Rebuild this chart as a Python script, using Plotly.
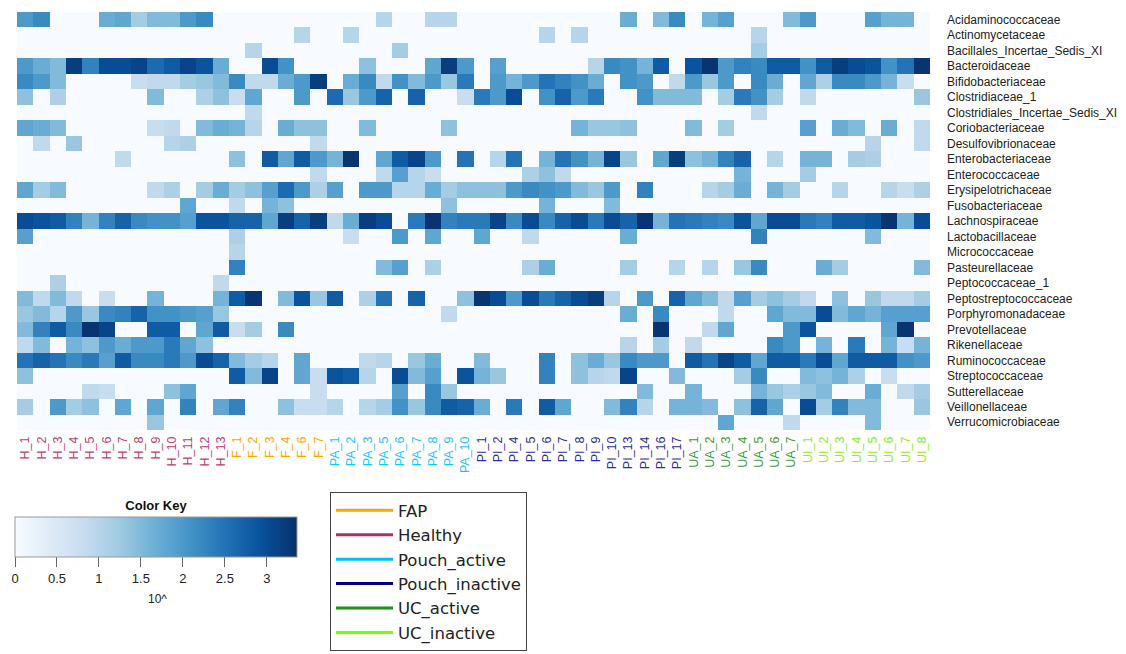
import plotly.graph_objects as go

# ---------------- data ----------------
samples = (["H_%d" % i for i in range(1, 14)]
           + ["F_1", "F_2", "F_3", "F_4", "F_6", "F_7"]
           + ["PA_1", "PA_2", "PA_3", "PA_5", "PA_6", "PA_7", "PA_8", "PA_9", "PA_10"]
           + ["PI_1", "PI_2", "PI_4", "PI_5", "PI_6", "PI_7", "PI_8", "PI_9", "PI_10",
              "PI_13", "PI_14", "PI_16", "PI_17"]
           + ["UA_%d" % i for i in range(1, 8)]
           + ["UI_%d" % i for i in range(1, 9)])
sample_group = (["Healthy"] * 13 + ["FAP"] * 6 + ["Pouch_active"] * 9
                + ["Pouch_inactive"] * 13 + ["UC_active"] * 7 + ["UC_inactive"] * 8)

families = ["Acidaminococcaceae", "Actinomycetaceae", "Bacillales_Incertae_Sedis_XI",
            "Bacteroidaceae", "Bifidobacteriaceae", "Clostridiaceae_1",
            "Clostridiales_Incertae_Sedis_XI", "Coriobacteriaceae", "Desulfovibrionaceae",
            "Enterobacteriaceae", "Enterococcaceae", "Erysipelotrichaceae",
            "Fusobacteriaceae", "Lachnospiraceae", "Lactobacillaceae", "Micrococcaceae",
            "Pasteurellaceae", "Peptococcaceae_1", "Peptostreptococcaceae",
            "Porphyromonadaceae", "Prevotellaceae", "Rikenellaceae", "Ruminococcaceae",
            "Streptococcaceae", "Sutterellaceae", "Veillonellaceae", "Verrucomicrobiaceae"]

# log10 abundance per family; blocks: H(13) | F(6) | PA(9) | PI(13) | UA(7) | UI(8)
acidaminococcaceae = ([2.0, 2.2, 0, 0, 0, 1.7, 1.8, 1.2, 1.5, 1.5, 2.0, 2.2, 0]
                      + [0, 0, 0, 0, 0, 0]
                      + [0, 0, 0, 1.0, 0, 0, 1.0, 1.0, 0]
                      + [0, 0, 0, 0, 0, 0, 0, 0, 0, 1.7, 0, 1.5, 2.2]
                      + [0, 1.6, 1.9, 0, 0, 0, 1.5]
                      + [2.0, 0, 0, 0, 1.9, 1.6, 1.6, 0])
actinomycetaceae = ([0] * 13
                    + [0, 0, 0, 0, 1.0, 0]
                    + [0, 1.0, 0, 0, 0, 0, 0, 0, 0]
                    + [0, 0, 0, 0, 1.0, 0, 1.0, 0, 0, 0, 0, 0, 0]
                    + [0, 0, 0, 0, 1.0, 0, 0]
                    + [0] * 8)
bacillales = ([0] * 13
              + [0, 1.0, 0, 0, 0, 0]
              + [0, 0, 0, 0, 1.2, 0, 0, 0, 0]
              + [0] * 13
              + [0, 0, 0, 0, 1.2, 0, 0]
              + [0] * 8)
bacteroidaceae = ([2.0, 1.7, 1.5, 3.2, 2.3, 3.0, 3.0, 3.1, 2.6, 2.8, 3.1, 2.9, 1.7]
                  + [0, 0, 3.0, 2.1, 0, 0]
                  + [0, 0, 1.4, 0, 0, 0, 1.8, 3.2, 2.0]
                  + [0, 1.9, 0, 0, 0, 0, 0, 1.0, 2.2, 2.1, 1.6, 2.8, 0]
                  + [2.9, 3.3, 2.0, 2.3, 2.2, 2.8, 2.8]
                  + [2.1, 2.8, 3.2, 3.0, 2.9, 2.1, 2.5, 3.3])
bifidobacteriaceae = ([2.2, 2.0, 1.5, 0, 0, 0, 0, 0.8, 0.9, 0.9, 1.2, 1.3, 1.5]
                      + [2.2, 0.9, 0.9, 1.7, 2.0, 3.2]
                      + [0, 1.7, 2.2, 0.9, 2.1, 1.5, 2.0, 1.3, 2.4]
                      + [0, 2.0, 1.6, 2.0, 2.5, 2.3, 2.1, 1.7, 0, 2.1, 2.0, 0, 0.9]
                      + [2.0, 1.3, 2.0, 0, 2.2, 1.7, 0]
                      + [1.8, 1.1, 2.2, 2.2, 2.0, 1.6, 0.8, 0])
clostridiaceae_1 = ([1.4, 0, 1.1, 0, 0, 0, 0, 0, 1.5, 0, 0, 1.1, 1.4]
                    + [0.8, 1.8, 0, 0, 2.0, 0]
                    + [2.6, 1.3, 2.0, 2.7, 0, 2.7, 0, 0, 0.8]
                    + [2.4, 2.0, 3.0, 0, 2.1, 2.7, 2.0, 2.4, 0, 0, 2.1, 1.5, 1.5]
                    + [1.5, 0, 1.2, 2.4, 2.1, 1.2, 0]
                    + [0.9, 0, 0, 0, 0, 0, 0, 1.3])
clostridiales = ([0] * 13
                 + [0, 0.9, 0, 0, 0, 0]
                 + [0] * 9
                 + [0] * 13
                 + [0, 0, 0, 0, 0.9, 0, 0]
                 + [0] * 8)
coriobacteriaceae = ([1.8, 1.7, 1.5, 0, 0, 0, 0, 0, 0.8, 0.9, 0, 1.5, 1.7]
                     + [1.6, 1.0, 0, 1.7, 1.4, 1.4]
                     + [0, 0, 1.5, 0, 0, 0, 0, 1.4, 0]
                     + [0, 0, 0, 0, 0, 0, 1.6, 1.3, 1.3, 1.4, 0, 0, 0]
                     + [1.5, 0, 1.2, 0, 0, 0, 0]
                     + [1.9, 0, 1.7, 1.5, 0, 1.7, 0, 0.9])
desulfovibrionaceae = ([0, 0.9, 0, 1.3, 0, 0, 0, 0, 0, 1.0, 1.1, 0, 0]
                       + [0, 0, 0, 0, 0, 0.9]
                       + [0] * 9
                       + [0] * 13
                       + [0] * 7
                       + [0, 0, 0, 0, 1.0, 0, 0, 0.9])
enterobacteriaceae = ([0, 0, 0, 0, 0, 0, 0.9, 0, 0, 0, 0, 0, 0]
                      + [1.4, 0, 2.8, 1.8, 2.8, 2.0]
                      + [1.6, 3.3, 0, 1.8, 2.8, 3.1, 2.0, 0, 2.5]
                      + [0, 1.0, 2.5, 0, 1.6, 2.5, 2.1, 1.6, 3.1, 1.3, 0, 1.8, 3.2]
                      + [1.4, 1.6, 2.3, 2.7, 0, 1.0, 0]
                      + [1.6, 1.6, 0, 1.2, 1.1, 0, 0, 0])
enterococcaceae = ([0] * 13
                   + [0, 0, 0, 0, 0, 0.9]
                   + [0, 0, 0, 0.9, 1.9, 1.0, 0.8, 0, 0]
                   + [0, 0, 0, 1.1, 1.4, 0.9, 0, 0, 0, 0, 0, 0, 0]
                   + [0, 0, 0, 1.6, 0, 0, 0]
                   + [1.2, 0, 0, 0, 0, 0, 0, 0])
erysipelotrichaceae = ([1.8, 1.2, 1.5, 0, 0, 0, 0, 0, 0.9, 1.1, 0, 1.2, 1.7]
                       + [1.2, 1.4, 1.9, 2.6, 2.0, 1.1]
                       + [1.9, 0, 2.0, 2.0, 1.0, 1.0, 1.7, 1.2, 1.4]
                       + [1.4, 1.4, 2.0, 2.2, 2.1, 2.0, 1.5, 1.3, 2.0, 0, 2.3, 0, 0]
                       + [0, 1.0, 1.2, 1.7, 0, 1.6, 1.2]
                       + [0, 0, 1.0, 0, 0, 1.0, 0.8, 1.1])
fusobacteriaceae = ([0, 0, 0, 0, 0, 0, 0, 0, 0, 0, 1.8, 0, 0]
                    + [0.9, 0, 1.6, 1.4, 0, 0]
                    + [0, 0, 0, 0, 0, 0, 0, 1.4, 0]
                    + [0, 0, 0, 0, 1.6, 0, 0, 0, 1.5, 0, 0, 0, 0]
                    + [0] * 7
                    + [0] * 8)
lachnospiraceae = ([3.0, 2.9, 2.8, 2.3, 1.6, 2.3, 2.7, 2.2, 2.1, 2.1, 1.9, 2.9, 2.9]
                   + [2.7, 2.7, 1.8, 3.2, 2.7, 3.2]
                   + [0.9, 1.7, 3.2, 3.0, 0, 2.4, 3.3, 2.3, 2.4]
                   + [2.4, 3.1, 2.2, 3.0, 2.2, 2.7, 3.0, 2.4, 3.0, 2.7, 3.3, 1.6, 2.5]
                   + [2.4, 2.3, 2.2, 2.9, 1.8, 3.0, 3.0]
                   + [2.4, 2.3, 2.8, 2.8, 2.9, 3.3, 1.6, 3.0])
lactobacillaceae = ([1.9] + [0] * 12
                    + [1.1, 0, 0, 0, 0, 0]
                    + [0, 0.8, 0, 0, 2.0, 0, 1.8, 0, 0]
                    + [1.8, 0, 0, 0.9, 0, 0, 0, 0, 0, 1.7, 0, 0, 0]
                    + [0, 0, 0, 0, 2.3, 0, 0]
                    + [0, 0, 0, 0, 1.5, 0, 0, 0])
micrococcaceae = ([0] * 13
                  + [1.0, 0, 0, 0, 0, 0]
                  + [0] * 9 + [0] * 13 + [0] * 7 + [0] * 8)
pasteurellaceae = ([0] * 13
                   + [2.3, 0, 0, 0, 0, 0]
                   + [0, 0, 0, 1.5, 1.9, 0, 1.1, 0, 0]
                   + [0, 0, 0, 1.1, 1.7, 0, 0, 0, 0, 1.2, 0, 0, 1.0]
                   + [0, 1.0, 0, 1.3, 2.2, 0, 0]
                   + [0, 1.7, 1.2, 0, 0, 0, 0, 1.5])
peptococcaceae_1 = ([0, 0, 1.1, 0, 0, 0, 0, 0, 0, 0, 0, 0, 0.9]
                    + [0] * 6 + [0] * 9 + [0] * 13 + [0] * 7 + [0] * 8)
peptostreptococcaceae = ([1.5, 0.9, 1.5, 0.9, 0, 0.8, 0, 0, 1.6, 0, 0, 0, 1.6]
                         + [2.8, 3.3, 0, 1.5, 2.9, 1.3]
                         + [2.8, 0, 1.1, 2.5, 0, 2.7, 0, 0, 1.4]
                         + [3.3, 3.0, 2.0, 3.0, 2.4, 2.7, 3.0, 3.2, 1.0, 0, 2.0, 0, 2.7]
                         + [1.8, 1.5, 0.9, 1.9, 1.2, 1.4, 1.2]
                         + [0.9, 0, 1.4, 0, 1.3, 0.9, 0.9, 1.2])
porphyromonadaceae = ([1.3, 1.5, 1.0, 2.0, 1.3, 2.2, 2.3, 2.7, 2.1, 2.1, 2.0, 1.9, 1.3]
                      + [0] * 6
                      + [0, 0, 0, 0, 0, 0, 0, 0.9, 0]
                      + [0, 0, 0, 0, 0, 0, 0, 0, 0, 1.7, 0, 2.2, 0]
                      + [0, 0, 0.9, 0, 0, 1.8, 1.5]
                      + [1.5, 3.0, 1.5, 1.8, 1.6, 1.9, 1.9, 1.9])
prevotellaceae = ([1.5, 2.3, 2.8, 2.2, 3.3, 3.1, 0, 0, 2.8, 2.8, 0, 1.8, 2.8]
                  + [0.8, 1.2, 0, 2.2, 0, 0]
                  + [0] * 9
                  + [0, 0, 0, 0, 0, 0, 0, 0, 0, 0, 0, 3.3, 0]
                  + [0, 0.9, 1.8, 0, 0, 0, 2.0]
                  + [2.9, 0, 0, 0, 0, 1.8, 3.3, 0])
rikenellaceae = ([0.9, 1.5, 0, 1.6, 1.4, 2.0, 1.7, 2.0, 2.0, 2.4, 1.8, 1.4, 0]
                 + [0] * 6
                 + [0] * 9
                 + [0, 0, 0, 0, 0, 0, 0, 0, 0, 1.0, 0, 1.2, 0]
                 + [0.9, 0, 0, 0, 0, 2.2, 2.0]
                 + [0, 1.6, 0, 2.4, 0, 1.6, 0.8, 1.6])
ruminococcaceae = ([2.5, 2.7, 2.5, 2.2, 2.4, 1.9, 2.8, 2.2, 2.2, 2.4, 2.0, 3.0, 2.7]
                   + [1.5, 1.2, 1.0, 0, 1.8, 0]
                   + [0, 0, 0.9, 1.0, 0, 1.3, 1.7, 0, 0]
                   + [1.5, 0, 0, 0, 2.3, 0, 1.4, 1.7, 1.3, 2.2, 2.0, 2.0, 0]
                   + [2.8, 2.5, 3.1, 2.8, 1.8, 2.8, 2.8]
                   + [2.4, 3.0, 1.8, 2.8, 2.8, 2.8, 2.1, 2.0])
streptococcaceae = ([1.4] + [0] * 12
                    + [2.8, 1.5, 3.1, 0, 1.8, 0.8]
                    + [2.9, 2.8, 1.0, 0, 3.0, 1.5, 1.9, 0, 2.9]
                    + [1.6, 1.3, 0, 0, 2.3, 0, 1.4, 1.0, 0.9, 3.1, 0, 0, 1.5]
                    + [0, 0, 0, 1.2, 2.2, 0, 0]
                    + [1.5, 1.4, 1.6, 1.1, 0, 0.8, 0, 0])
sutterellaceae = ([0, 0, 0, 0, 0.9, 0.8, 0, 0, 0, 1.4, 1.8, 0, 0]
                  + [0, 0, 0, 0, 0, 0.8]
                  + [0, 0, 0, 0, 1.9, 0, 2.2, 1.3, 0]
                  + [0, 0, 0, 0, 0, 0, 0, 0, 0, 0, 1.5, 0, 0]
                  + [1.6, 0, 0, 0, 1.6, 1.3, 1.1]
                  + [1.3, 1.5, 0, 0, 1.7, 0, 0.9, 1.2])
veillonellaceae = ([1.2, 0, 2.0, 1.2, 1.4, 0, 1.8, 0, 1.8, 0, 2.3, 0, 1.8]
                   + [2.3, 0, 0, 1.4, 0.8, 0.8]
                   + [1.0, 0, 1.0, 1.2, 2.1, 1.3, 2.2, 2.8, 2.7]
                   + [1.7, 0, 2.4, 0, 2.8, 1.8, 0, 0, 1.5, 2.3, 1.0, 0, 1.6]
                   + [1.6, 1.5, 0, 1.4, 2.7, 1.8, 0]
                   + [3.0, 1.2, 2.3, 1.5, 1.5, 0, 0, 1.3])
verrucomicrobiaceae = ([0, 0, 0, 0, 0, 0, 0, 0, 1.3, 0, 0, 0, 0]
                       + [0] * 6 + [0] * 9 + [0] * 13
                       + [0, 0, 1.8, 0, 0, 0, 0.9]
                       + [0, 0, 0, 0, 1.5, 0, 0, 0])

legend_groups = ["FAP", "Healthy", "Pouch_active", "Pouch_inactive", "UC_active", "UC_inactive"]
colorbar_ticks = [0, 0.5, 1, 1.5, 2, 2.5, 3]

# ---------------- figure ----------------
rows = [acidaminococcaceae, actinomycetaceae, bacillales, bacteroidaceae, bifidobacteriaceae,
        clostridiaceae_1, clostridiales, coriobacteriaceae, desulfovibrionaceae,
        enterobacteriaceae, enterococcaceae, erysipelotrichaceae, fusobacteriaceae,
        lachnospiraceae, lactobacillaceae, micrococcaceae, pasteurellaceae, peptococcaceae_1,
        peptostreptococcaceae, porphyromonadaceae, prevotellaceae, rikenellaceae,
        ruminococcaceae, streptococcaceae, sutterellaceae, veillonellaceae, verrucomicrobiaceae]

group_colors = {"FAP": "#FFA500", "Healthy": "#B03060", "Pouch_active": "#00BFFF",
                "Pouch_inactive": "#000080", "UC_active": "#228B22", "UC_inactive": "#7CFC00"}
label_colors = {"FAP": "#FFA500", "Healthy": "#C0406E", "Pouch_active": "#1EC0FF",
                "Pouch_inactive": "#2E2E9A", "UC_active": "#3A9A3A", "UC_inactive": "#88EE22"}

FONT = "Liberation Sans, Arial, sans-serif"
LEGEND_FONT = "DejaVu Sans, Liberation Sans, sans-serif"

# the page body has an 8px margin: the figure is drawn 8px in from the window corner
OFF = 8
W, H = 1126 - OFF, 654 - OFF
ML, MR, MT, MB = 17 - OFF, 196, 12 - OFF, 224
PW, PH = W - ML - MR, H - MT - MB


def px_x(x):  # window pixel -> paper x
    return (x - OFF - ML) / PW


def px_y(y):  # window pixel -> paper y
    return (H - MB - (y - OFF)) / PH


fig = go.Figure()
fig.add_trace(go.Heatmap(
    z=rows, x=list(range(len(samples))), y=list(range(len(families))),
    colorscale="Blues", zmin=0, zmax=3.36, showscale=True, showlegend=False,
    hoverinfo="skip",
    colorbar=dict(
        orientation="h", lenmode="pixels", len=282, thickness=40,
        x=px_x(15), xanchor="left", y=px_y(502), yanchor="top",
        xpad=0, ypad=0,
        title=dict(text="<b>Color Key</b>", side="top",
                   font=dict(family=FONT, size=13, color="#111")),
        tickvals=colorbar_ticks, ticktext=[str(t) for t in colorbar_ticks],
        ticks="outside", ticklen=10, tickcolor="#666",
        tickfont=dict(family=FONT, size=13, color="#222"),
        outlinewidth=1, outlinecolor="#999",
    ),
))

for g in legend_groups:
    fig.add_trace(go.Scatter(x=[None], y=[None], mode="lines", name=g,
                             line=dict(color=group_colors[g], width=3)))

ticktext = ["<span style='color:%s'>%s</span>" % (label_colors[g], s)
            for s, g in zip(samples, sample_group)]

fig.update_layout(
    width=W, height=H, margin=dict(l=ML, r=MR, t=MT, b=MB, autoexpand=False),
    paper_bgcolor="white", plot_bgcolor="white",
    font=dict(family=FONT),
    xaxis=dict(range=[-0.5, len(samples) - 0.5], tickvals=list(range(len(samples))),
               ticktext=ticktext, tickangle=-90, ticks="", showgrid=False, zeroline=False,
               ticklabelstandoff=3,
               tickfont=dict(family=FONT, size=12.5), showline=False, automargin=False),
    yaxis=dict(range=[len(families) - 0.5, -0.5], tickvals=list(range(len(families))),
               ticktext=families, side="right", ticks="", showgrid=False, zeroline=False,
               ticklabelstandoff=16, automargin=False,
               tickfont=dict(family=FONT, size=12, color="#222"), showline=False),
    legend=dict(x=px_x(330), xanchor="left", y=px_y(492), yanchor="top",
                bordercolor="#444", borderwidth=1, bgcolor="white", itemwidth=57,
                font=dict(family=LEGEND_FONT, size=16.5, color="#222"),
                itemclick=False, itemdoubleclick=False),
    annotations=[dict(text="10^", x=px_x(157), y=px_y(599), xref="paper", yref="paper",
                      xanchor="center", yanchor="middle",
                      showarrow=False, font=dict(family=FONT, size=12, color="#222"))],
)

fig.write_html("out.html")
